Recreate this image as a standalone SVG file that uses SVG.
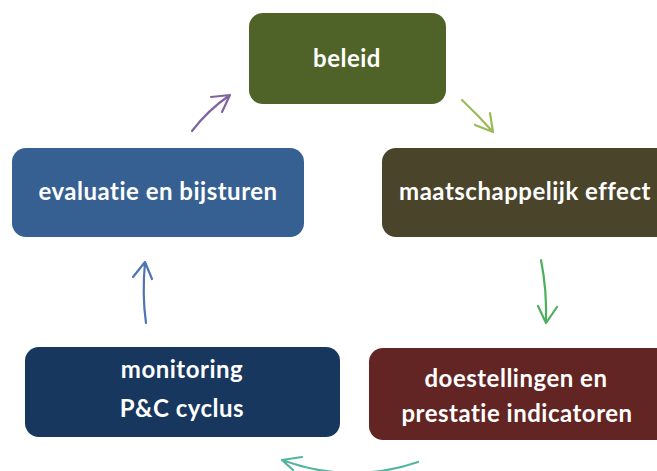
<svg xmlns="http://www.w3.org/2000/svg" width="657" height="471" viewBox="0 0 657 471">
<style>
.box{stroke:none}
.t{font-family:Lato,"Open Sans","Liberation Sans",sans-serif;font-weight:bold;font-size:24px;letter-spacing:0.5px;font-variant-ligatures:none;font-feature-settings:"liga" 0;fill:#ffffff;text-anchor:middle}
.c{fill:none;stroke-width:2.2;stroke-linecap:round;stroke-linejoin:round}
</style>
<rect width="657" height="471" fill="#ffffff"/>
<g id="node-beleid">
<rect class="box" x="249" y="13" width="197" height="91" rx="14" fill="#4F6228"/>
<text class="t" x="347" y="67">beleid</text>
</g>
<g id="node-maatschappelijk">
<rect class="box" x="382" y="148" width="300" height="89" rx="14" fill="#4A442A"/>
<text class="t" x="525" y="200">maatschappelijk effect</text>
</g>
<g id="node-doestellingen">
<rect class="box" x="369" y="348" width="310" height="92" rx="14" fill="#632523"/>
<text class="t" x="516" y="387">doestellingen en</text>
<text class="t" x="517" y="422">prestatie indicatoren</text>
</g>
<g id="node-monitoring">
<rect class="box" x="25" y="347" width="315" height="90" rx="14" fill="#17375E"/>
<text class="t" x="182" y="378">monitoring</text>
<text class="t" x="182" y="417">P&amp;C cyclus</text>
</g>
<g id="node-evaluatie">
<rect class="box" x="12" y="148" width="292" height="89" rx="14" fill="#376092"/>
<text class="t" x="158" y="200">evaluatie en bijsturen</text>
</g>
<g id="connectors">
<path class="c" stroke="#8064A2" d="M192,131 Q208,110 230,95 M211,97 L230,95 L222,112"/>
<path class="c" stroke="#9BBB59" d="M462,100 Q478,115 493,132 M475,125 L493,132 L490,113"/>
<path class="c" stroke="#4EAF5C" d="M541,260 Q547,290 546,323 M538,306 L546,323 L557,307"/>
<path class="c" stroke="#55B4A0" d="M418,462 Q350,485 282,460 M302,457 L282,460 L293,470"/>
<path class="c" stroke="#4F74B0" d="M146,323 Q142,295 145,262 M133,277 L145,262 L152,279"/>
</g>
</svg>
